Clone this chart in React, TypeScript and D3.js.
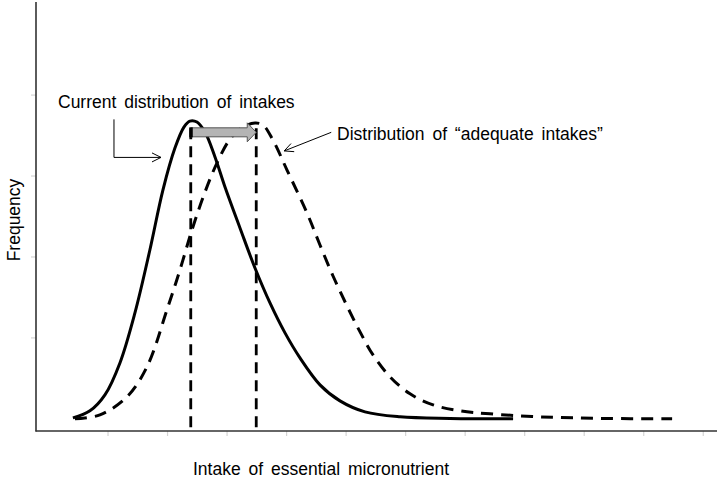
import React from 'react';
import * as d3 from 'd3';

// Current distribution of intakes (solid curve): [intake, frequency]
const currentX = [0.41, 0.696, 0.948, 1.2, 1.452, 1.703, 1.922, 2.124, 2.275, 2.376, 2.494, 2.629, 2.797, 2.965, 3.217, 3.469, 3.721, 3.973, 4.225, 4.561, 4.897, 5.317, 5.906, 6.746, 7.805];
const currentY = [0.012, 0.099, 0.296, 0.691, 1.309, 2.086, 2.827, 3.346, 3.605, 3.679, 3.667, 3.543, 3.235, 2.864, 2.358, 1.864, 1.432, 1.062, 0.753, 0.42, 0.222, 0.086, 0.025, 0.005, 0.0];

// Distribution of "adequate intakes" (dashed curve)
const adequateX = [0.444, 0.864, 1.318, 1.654, 1.99, 2.208, 2.41, 2.629, 2.83, 3.05, 3.267, 3.469, 3.603, 3.771, 4.007, 4.343, 4.561, 4.78, 5.015, 5.234, 5.452, 5.738, 6.074, 6.461, 6.914, 7.418, 8.259, 9.267, 10.477];
const adequateY = [0.0, 0.049, 0.272, 0.642, 1.346, 1.84, 2.333, 2.802, 3.16, 3.457, 3.605, 3.654, 3.63, 3.444, 3.074, 2.543, 2.148, 1.765, 1.395, 1.074, 0.79, 0.519, 0.309, 0.173, 0.099, 0.062, 0.025, 0.006, 0.0];

// Reference lines (intake at each peak) and shift arrow
const peakLines = [2.39, 3.49];
const peakLineTop = 3.59;
const arrowLevel = 3.54;

const xTicks = [1, 2, 3, 4, 5, 6, 7, 8, 9, 10, 11];
const yTicks = [1, 2, 3, 4];

const W = 717;
const H = 478;
const FONT = '"Liberation Sans", Arial, sans-serif';

export default function App() {
  const x = d3.scaleLinear().domain([-0.21, 11.13]).range([36, 711]);
  const y = d3.scaleLinear().domain([-0.15, 5.15]).range([431, 2]);

  const line = d3
    .line<[number, number]>()
    .x((d) => x(d[0]))
    .y((d) => y(d[1]))
    .curve(d3.curveCatmullRom.alpha(0.5));

  const currentPts = currentX.map((v, i) => [v, currentY[i]] as [number, number]);
  const adequatePts = adequateX.map((v, i) => [v, adequateY[i]] as [number, number]);

  // shift arrow geometry
  const ax0 = x(peakLines[0]);
  const ax1 = x(peakLines[1]);
  const ay = y(arrowLevel);
  const headLen = 9;
  const arrowPath = [
    [ax0, ay - 4.5],
    [ax1 - headLen, ay - 4.5],
    [ax1 - headLen, ay - 9.5],
    [ax1, ay],
    [ax1 - headLen, ay + 9.5],
    [ax1 - headLen, ay + 4.5],
    [ax0, ay + 4.5],
  ]
    .map((p) => p.join(','))
    .join(' ');

  // leader for "Current distribution"
  const l1x = x(1.1);
  const l1top = y(3.7);
  const l1y = y(3.23);
  const l1tip = x(1.89);

  // leader for "adequate intakes"
  const l2sx = x(4.75);
  const l2sy = y(3.54);
  const l2tx = x(3.96);
  const l2ty = y(3.31);
  const ang = Math.atan2(l2sy - l2ty, l2sx - l2tx);
  const hl = 10;
  const hs = 0.45;

  const labelStyle = { wordSpacing: '3px' };

  return (
    <svg width={W} height={H} style={{ position: 'absolute', left: 0, top: 0, background: '#fff' }}>
      <rect width={W} height={H} fill="#fff" />

      {/* ticks */}
      {xTicks.map((t) => (
        <line key={'xt' + t} x1={x(t)} x2={x(t)} y1={431} y2={436} stroke="#d4d4d4" strokeWidth={1.2} />
      ))}
      {yTicks.map((t) => (
        <line key={'yt' + t} x1={31} x2={36} y1={y(t)} y2={y(t)} stroke="#d4d4d4" strokeWidth={1.2} />
      ))}

      {/* axes */}
      <line x1={36} x2={36} y1={2} y2={431.5} stroke="#333" strokeWidth={1.6} />
      <line x1={35.5} x2={717} y1={431} y2={431} stroke="#333" strokeWidth={1.6} />

      {/* vertical peak lines */}
      {peakLines.map((v) => (
        <line
          key={'pl' + v}
          x1={x(v)}
          x2={x(v)}
          y1={y(peakLineTop)}
          y2={431}
          stroke="#000"
          strokeWidth={2.8}
          strokeDasharray="11,7"
        />
      ))}

      {/* curves */}
      <path d={line(adequatePts) || ''} fill="none" stroke="#000" strokeWidth={3} strokeDasharray="12,8" />
      <path d={line(currentPts) || ''} fill="none" stroke="#000" strokeWidth={3} />

      {/* shift arrow */}
      <polygon points={arrowPath} fill="#b4b4b4" stroke="#555" strokeWidth={1} />
      <rect x={ax0 - 1.5} y={ay - 5} width={3.5} height={10} fill="#000" />

      {/* leader 1 */}
      <polyline points={`${l1x},${l1top} ${l1x},${l1y} ${l1tip},${l1y}`} fill="none" stroke="#000" strokeWidth={1} />
      <polyline
        points={`${l1tip - 9},${l1y - 4.5} ${l1tip},${l1y} ${l1tip - 9},${l1y + 4.5}`}
        fill="none"
        stroke="#000"
        strokeWidth={1}
      />

      {/* leader 2 */}
      <line x1={l2sx} y1={l2sy} x2={l2tx} y2={l2ty} stroke="#000" strokeWidth={1} />
      <polyline
        points={`${l2tx + hl * Math.cos(ang + hs)},${l2ty + hl * Math.sin(ang + hs)} ${l2tx},${l2ty} ${l2tx + hl * Math.cos(ang - hs)},${l2ty + hl * Math.sin(ang - hs)}`}
        fill="none"
        stroke="#000"
        strokeWidth={1}
      />

      {/* labels */}
      <text x={58} y={108} fontFamily={FONT} fontSize={17.5} fill="#000" style={labelStyle}>
        Current distribution of intakes
      </text>
      <text x={337} y={140} fontFamily={FONT} fontSize={17.5} fill="#000" style={labelStyle}>
        Distribution of “adequate intakes”
      </text>
      <text
        transform="translate(20,220) rotate(-90)"
        textAnchor="middle"
        fontFamily={FONT}
        fontSize={17.5}
        fill="#000"
      >
        Frequency
      </text>
      <text x={193} y={475} fontFamily={FONT} fontSize={17.5} fill="#000" style={labelStyle}>
        Intake of essential micronutrient
      </text>
    </svg>
  );
}
